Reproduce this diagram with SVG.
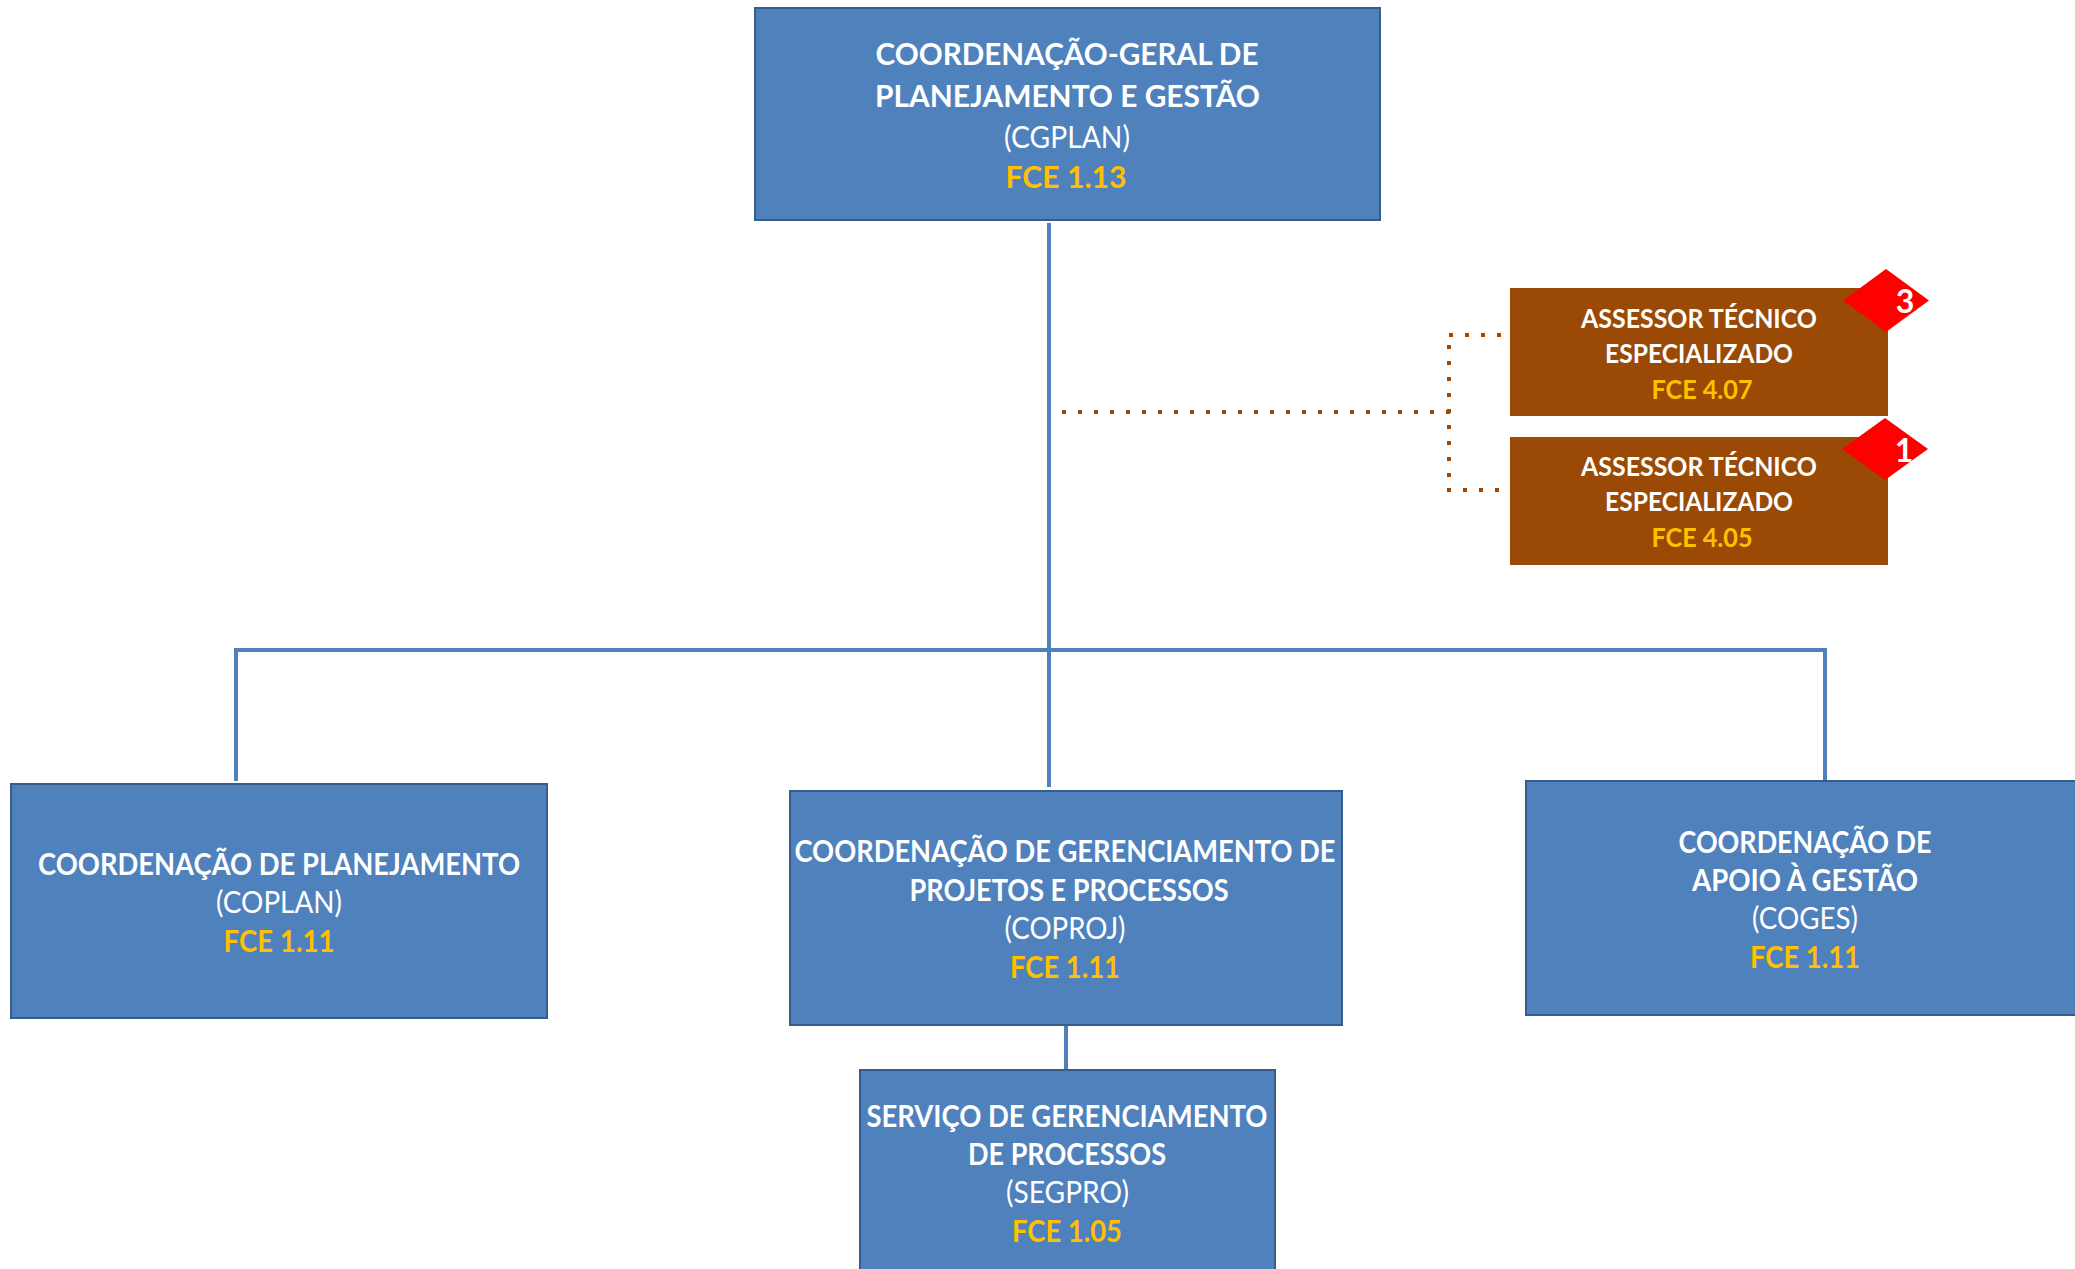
<svg xmlns="http://www.w3.org/2000/svg" width="2075" height="1269" viewBox="0 0 2075 1269">
<style>
text{font-family:Lato,"Open Sans","Liberation Sans",sans-serif;text-anchor:middle}
.box{fill:#4f81bd;stroke:#385d8a;stroke-width:2}
.adv{fill:#9b4a05}
.tag{fill:#ff0000}
.t{font-size:30px;font-weight:700;fill:#fff}
.s{font-size:30px;font-weight:400;fill:#fff}
.f{font-size:30px;font-weight:700;fill:#ffc000}
.at{font-size:26px;font-weight:700;fill:#fff}
.af{font-size:26px;font-weight:700;fill:#ffc000}
.n{font-size:32px;font-weight:700;fill:#fff}
.line{fill:none;stroke:#4f81bd;stroke-width:4}
.dot{fill:none;stroke:#9b4a05;stroke-width:4;stroke-dasharray:4 12}
</style>
<rect width="2075" height="1269" fill="#fff"/>
<g id="connectors">
<path class="line" d="M1049 223V787M236 781V650H1825V780"/>
<path class="line" d="M1066 1025V1069"/>
<path class="dot" d="M1062 412H1452"/>
<path class="dot" d="M1449 345V480"/>
<path class="dot" d="M1449 335H1502"/>
<path class="dot" d="M1447 490H1502"/>
</g>
<g id="cgplan">
<rect class="box" x="755" y="8" width="625" height="212"/>
<text class="t" x="1067" y="65" textLength="383" lengthAdjust="spacingAndGlyphs">COORDENAÇÃO-GERAL DE</text>
<text class="t" x="1067.5" y="107" textLength="385" lengthAdjust="spacingAndGlyphs">PLANEJAMENTO E GESTÃO</text>
<text class="s" x="1067" y="148" textLength="126" lengthAdjust="spacingAndGlyphs">(CGPLAN)</text>
<text class="f" x="1066" y="188" textLength="121" lengthAdjust="spacingAndGlyphs">FCE 1.13</text>
</g>
<g id="assessor1">
<rect class="adv" x="1510" y="288" width="378" height="128"/>
<text class="at" x="1699" y="328" textLength="236" lengthAdjust="spacingAndGlyphs">ASSESSOR TÉCNICO</text>
<text class="at" x="1699" y="363" textLength="188" lengthAdjust="spacingAndGlyphs">ESPECIALIZADO</text>
<text class="af" x="1702" y="399" textLength="101" lengthAdjust="spacingAndGlyphs">FCE 4.07</text>
<polygon class="tag" points="1886,269 1929,300.5 1886,332 1843,300.5"/>
<text class="n" x="1905" y="313">3</text>
</g>
<g id="assessor2">
<rect class="adv" x="1510" y="437" width="378" height="128"/>
<text class="at" x="1699" y="476" textLength="236" lengthAdjust="spacingAndGlyphs">ASSESSOR TÉCNICO</text>
<text class="at" x="1699" y="511" textLength="188" lengthAdjust="spacingAndGlyphs">ESPECIALIZADO</text>
<text class="af" x="1702" y="547" textLength="101" lengthAdjust="spacingAndGlyphs">FCE 4.05</text>
<polygon class="tag" points="1885,418 1928,449 1885,480 1842,449"/>
<text class="n" x="1904" y="462">1</text>
</g>
<g id="coplan">
<rect class="box" x="11" y="784" width="536" height="234"/>
<text class="t" x="279" y="875" textLength="482" lengthAdjust="spacingAndGlyphs">COORDENAÇÃO DE PLANEJAMENTO</text>
<text class="s" x="279" y="913" textLength="126" lengthAdjust="spacingAndGlyphs">(COPLAN)</text>
<text class="f" x="279" y="952" textLength="111" lengthAdjust="spacingAndGlyphs">FCE 1.11</text>
</g>
<g id="coproj">
<rect class="box" x="790" y="791" width="552" height="234"/>
<text class="t" x="1065" y="862" textLength="541" lengthAdjust="spacingAndGlyphs">COORDENAÇÃO DE GERENCIAMENTO DE</text>
<text class="t" x="1069" y="901" textLength="319" lengthAdjust="spacingAndGlyphs">PROJETOS E PROCESSOS</text>
<text class="s" x="1065" y="939" textLength="121" lengthAdjust="spacingAndGlyphs">(COPROJ)</text>
<text class="f" x="1065" y="978" textLength="110" lengthAdjust="spacingAndGlyphs">FCE 1.11</text>
</g>
<g id="coges">
<rect class="box" x="1526" y="781" width="560" height="234"/>
<text class="t" x="1805" y="853" textLength="253" lengthAdjust="spacingAndGlyphs">COORDENAÇÃO DE</text>
<text class="t" x="1805" y="891" textLength="226" lengthAdjust="spacingAndGlyphs">APOIO À GESTÃO</text>
<text class="s" x="1805" y="929" textLength="106" lengthAdjust="spacingAndGlyphs">(COGES)</text>
<text class="f" x="1805" y="968" textLength="110" lengthAdjust="spacingAndGlyphs">FCE 1.11</text>
</g>
<g id="segpro">
<rect class="box" x="860" y="1070" width="415" height="220"/>
<text class="t" x="1067" y="1127" textLength="401" lengthAdjust="spacingAndGlyphs">SERVIÇO DE GERENCIAMENTO</text>
<text class="t" x="1067" y="1165" textLength="198" lengthAdjust="spacingAndGlyphs">DE PROCESSOS</text>
<text class="s" x="1067.5" y="1203" textLength="123" lengthAdjust="spacingAndGlyphs">(SEGPRO)</text>
<text class="f" x="1067" y="1242" textLength="110" lengthAdjust="spacingAndGlyphs">FCE 1.05</text>
</g>
</svg>
